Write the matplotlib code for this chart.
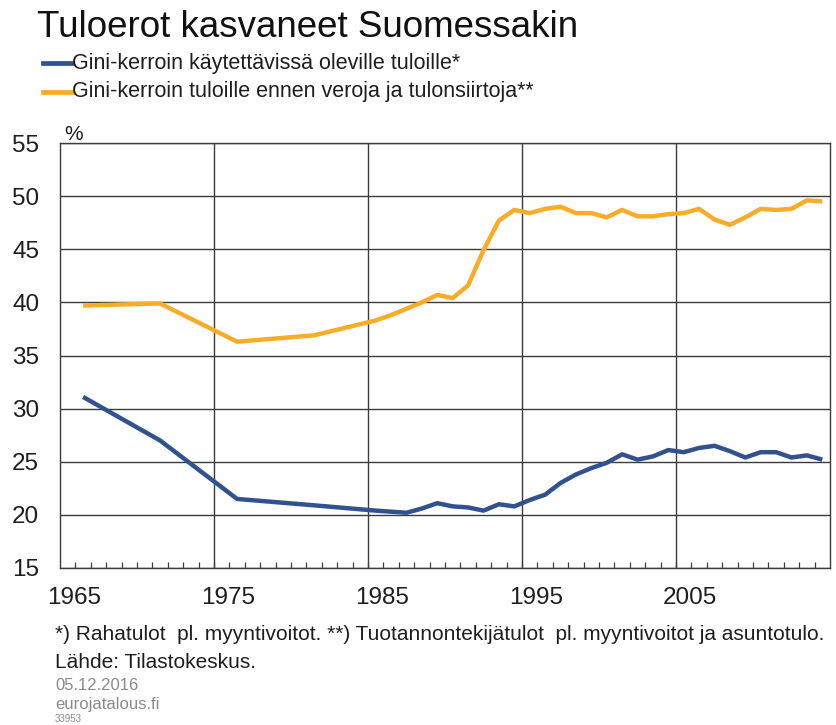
import numpy as np
import matplotlib.pyplot as plt
from matplotlib.ticker import FixedLocator

plt.rcParams['font.family'] = ['Liberation Sans', 'DejaVu Sans']

# Vuodet ja Gini-kertoimet (%)
years = [1966, 1971, 1976, 1981, 1985, 1986, 1987, 1988, 1989, 1990,
         1991, 1992, 1993, 1994, 1995, 1996, 1997, 1998, 1999, 2000,
         2001, 2002, 2003, 2004, 2005, 2006, 2007, 2008, 2009, 2010,
         2011, 2012, 2013, 2014]
gini_disp = [31.1, 27.0, 21.5, 20.9, 20.4, 20.3, 20.2, 20.6, 21.1, 20.8,
             20.7, 20.4, 21.0, 20.8, 21.4, 21.9, 23.0, 23.8, 24.4, 24.9,
             25.7, 25.2, 25.5, 26.1, 25.9, 26.3, 26.5, 26.0, 25.4, 25.9,
             25.9, 25.4, 25.6, 25.2]
gini_market = [39.7, 39.9, 36.3, 36.9, 38.3, 38.8, 39.4, 40.0, 40.7, 40.4,
               41.6, 44.9, 47.7, 48.7, 48.4, 48.8, 49.0, 48.4, 48.4, 48.0,
               48.7, 48.1, 48.1, 48.3, 48.4, 48.8, 47.8, 47.3, 48.0, 48.8,
               48.7, 48.8, 49.6, 49.5]
decades = [1965, 1975, 1985, 1995, 2005]
yticks = [15, 20, 25, 30, 35, 40, 45, 50, 55]

blue = '#31518F'
orange = '#F8AC28'
grid_c = '#3c3c3c'
txt_c = '#1e1e1e'

fig = plt.figure(figsize=(8.37, 7.25), dpi=100)
ax = fig.add_axes([60/837, 1-568/725, 770/837, 425/725])

ax.plot(years, gini_market, color=orange, lw=3.2, solid_capstyle='butt', zorder=3)
ax.plot(years, gini_disp, color=blue, lw=3.2, solid_capstyle='butt', zorder=3)

ax.set_xlim(1964.5, 2014.5)
ax.set_ylim(15, 55)

# pystysuorat apuviivat vuosikymmenten rajoilla
for d in decades[1:]:
    ax.axvline(d - 0.5, color=grid_c, lw=1.0, zorder=1)

ax.set_yticks(yticks)
ax.yaxis.grid(True, color=grid_c, lw=1.0, zorder=1)
ax.tick_params(axis='y', length=0, pad=15, labelsize=17.5, labelcolor=txt_c)

ax.set_xticks([d + 0.4 for d in decades])
ax.set_xticklabels([str(d) for d in decades])
ax.xaxis.set_minor_locator(FixedLocator(np.arange(1965.5, 2014, 1)))
ax.tick_params(axis='x', which='major', length=0, pad=14, labelsize=17.5, labelcolor=txt_c)
ax.tick_params(axis='x', which='minor', direction='in', length=4, width=0.9, color=grid_c)

for s in ax.spines.values():
    s.set_color(grid_c)
    s.set_linewidth(1.0)
ax.set_axisbelow(True)

fig.text(37/837, 1-37/725, 'Tuloerot kasvaneet Suomessakin', fontsize=26.5,
         va='baseline', color='#111111')

leg_labels = ['Gini-kerroin käytettävissä oleville tuloille*',
              'Gini-kerroin tuloille ennen veroja ja tulonsiirtoja**']
for i, (lab, c) in enumerate(zip(leg_labels, [blue, orange])):
    yy = 1 - (63 + 29*i)/725
    fig.add_artist(plt.Line2D([43/837, 72/837], [yy, yy], color=c, lw=3.4,
                              transform=fig.transFigure))
    fig.text(72/837, yy, lab, fontsize=15.5, va='center', color=txt_c)

fig.text(64/837, 1-134/725, '%', fontsize=15, va='center', color=txt_c)

fig.text(55/837, 1-635/725,
         '*) Rahatulot  pl. myyntivoitot. **) Tuotannontekijätulot  pl. myyntivoitot ja asuntotulo.',
         fontsize=15, va='center', color=txt_c)
fig.text(55/837, 1-662/725, 'Lähde: Tilastokeskus.', fontsize=15, va='center', color=txt_c)
fig.text(55/837, 1-685/725, '05.12.2016', fontsize=12, va='center', color='#8a8a8a')
fig.text(55/837, 1-704/725, 'eurojatalous.fi', fontsize=12, va='center', color='#8a8a8a')
fig.text(55/837, 1-719/725, '33953', fontsize=7, va='center', color='#8a8a8a')

fig.savefig('out.png', dpi=100)
